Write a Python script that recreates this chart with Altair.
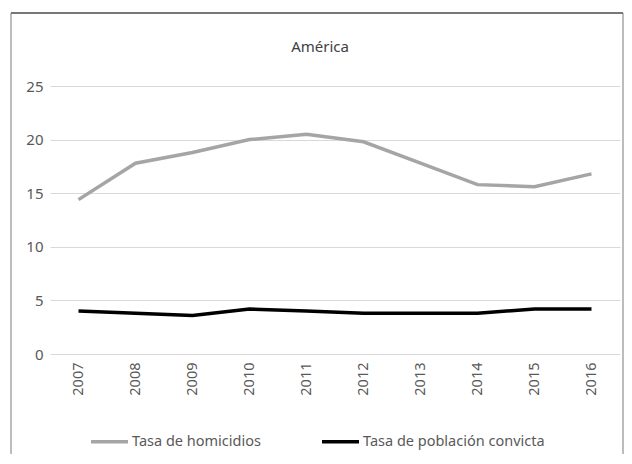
import altair as alt
import pandas as pd

years = ["2007", "2008", "2009", "2010", "2011", "2012", "2013", "2014", "2015", "2016"]
homicidios = [14.4, 17.8, 18.8, 20.0, 20.5, 19.8, 17.8, 15.8, 15.6, 16.8]
convicta = [4.0, 3.8, 3.6, 4.2, 4.0, 3.8, 3.8, 3.8, 4.2, 4.2]
series = ["Tasa de homicidios", "Tasa de población convicta"]
colors = ["#a5a5a5", "#000000"]
title_text = "América"

rows = []
for y, h, c in zip(years, homicidios, convicta):
    rows.append({"year": y, "serie": series[0], "valor": h})
    rows.append({"year": y, "serie": series[1], "valor": c})
df = pd.DataFrame(rows)

FONT = "Noto Sans"
LABEL = "#595959"

lines = alt.Chart(df).mark_line(strokeWidth=3.5).encode(
    x=alt.X("year:N", sort=years, title=None,
            scale=alt.Scale(paddingInner=0, paddingOuter=0.5),
            axis=alt.Axis(labelAngle=-90, domain=False, ticks=False, labelPadding=8,
                          labelFontSize=14.5, labelColor=LABEL, labelFont=FONT,
                          labelBaseline="middle", labelAlign="right")),
    y=alt.Y("valor:Q", title=None,
            scale=alt.Scale(domain=[0, 25]),
            axis=alt.Axis(values=[0, 5, 10, 15, 20, 25], domain=False, ticks=False,
                          labelPadding=7, labelFontSize=15, labelColor=LABEL,
                          labelFont=FONT, gridColor="#d9d9d9", gridWidth=1)),
    color=alt.Color("serie:N", title=None,
                    scale=alt.Scale(domain=series, range=colors),
                    legend=alt.Legend(orient="none", legendX=39, legendY=335,
                                      direction="horizontal", symbolType="stroke",
                                      symbolSize=1369, symbolStrokeWidth=3.5,
                                      labelFontSize=14.5, labelColor=LABEL, labelFont=FONT,
                                      labelLimit=400, columnPadding=54, labelOffset=2)),
)

border = alt.Chart(pd.DataFrame({"a": [0]})).mark_rect(
    fill="transparent", stroke="#7a7a7a", strokeWidth=1
).encode(
    x=alt.value(-39), x2=alt.value(573), y=alt.value(-73), y2=alt.value(420)
)

top_edge = alt.Chart(pd.DataFrame({"a": [0]})).mark_rule(
    stroke="#606060", strokeWidth=1.5
).encode(
    x=alt.value(-39), x2=alt.value(573), y=alt.value(-73)
)

title = alt.Chart(pd.DataFrame({"t": [title_text]})).mark_text(
    font=FONT, fontSize=15, color="#404040", align="center", baseline="middle"
).encode(
    text="t:N", x=alt.value(270), y=alt.value(-39)
)

chart = alt.layer(border, top_edge, lines, title).properties(
    width=570, height=268,
    autosize=alt.AutoSizeParams(type="none"),
    padding={"left": 42, "top": 78, "right": 4, "bottom": 100},
).configure_view(stroke=None)

chart.save("out.html", embed_options={"renderer": "svg", "actions": False})
